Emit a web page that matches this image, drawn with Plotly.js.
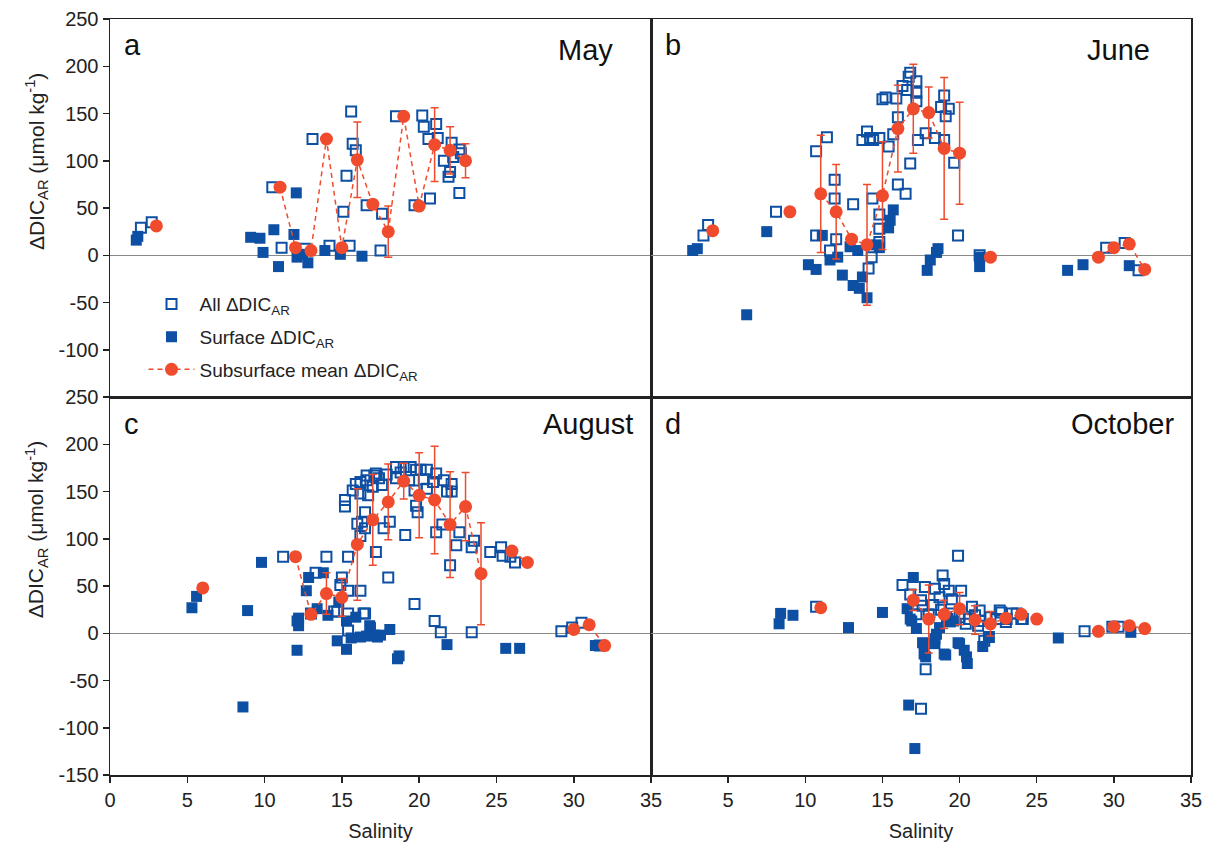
<!DOCTYPE html>
<html>
<head>
<meta charset="utf-8">
<script src="https://cdn.plot.ly/plotly-3.0.1.min.js"></script>
<style>html,body{margin:0;padding:0;background:#fff;}#chart{width:1213px;height:852px;}</style>
</head>
<body>
<div id="chart"></div>
<script>
// ---------- Data ----------
// Panel a: May
const mayAllX = [2.0, 2.7, 10.5, 11.1, 12.6, 13.1, 14.2, 15.1, 15.3, 15.5, 15.6, 15.7, 15.9, 16.6, 17.5, 17.6, 18.5, 19.7, 20.2, 20.3, 20.6, 20.7, 21.1, 21.2, 21.6, 21.9, 22.0, 22.1, 22.2, 22.6, 22.7, 22.6];
const mayAllY = [29, 35, 72, 8, 7, 123, 10, 46, 84, 10, 152, 118, 111, 53, 5, 44, 147, 53, 148, 136, 123, 60, 139, 124, 100, 83, 88, 119, 104, 112, 108, 66];
const maySurfX = [1.7, 1.8, 9.1, 9.7, 9.9, 10.6, 10.9, 12.05, 11.9, 12.1, 12.45, 12.8, 13.9, 14.9, 16.3];
const maySurfY = [16, 20, 19, 18, 3, 27, -12, 66, 22, -2, 1, -8, 5, 1, -1];
const mayMeanX = [3, 11, 12, 13, 14, 15, 16, 17, 18, 19, 20, 21, 22, 23];
const mayMeanY = [31, 72, 8, 5, 123, 8, 101, 54, 25, 147, 52, 117, 111, 100];
const mayMeanErr = [null, null, null, null, null, null, 40, null, 27, null, null, 39, 25, 18];

// Panel b: June
const junAllX = [3.7, 3.4, 8.1, 10.7, 10.7, 11.4, 11.9, 11.9, 11.6, 12.0, 13.1, 13.7, 14.0, 14.2, 14.4, 14.8, 15.4, 14.35, 14.8, 14.8, 14.8, 14.3, 14.1, 15.0, 15.2, 15.9, 16.0, 15.7, 16.0, 16.5, 16.8, 16.3, 16.7, 16.8, 16.6, 17.2, 17.2, 17.2, 17.3, 17.8, 18.4, 19.0, 18.8, 19.3, 19.1, 19.0, 19.65, 19.9, 21.3, 29.5, 30.7, 31.6];
const junAllY = [32, 21, 46, 21, 110, 125, 80, 60, 5, 17, 54, 122, 131, 124, 122, 124, 115, 60, 43, 28, 14, -2, -14, 165, 167, 166, 146, 128, 75, 65, 97, 179, 189, 193, 175, 184, 172, 163, 122, 129, 124, 169, 157, 155, 147, 122, 98, 21, 0, 8, 13, -16];
const junSurfX = [2.7, 3.0, 6.2, 7.5, 10.2, 10.7, 11.1, 11.6, 12.1, 12.4, 13.1, 13.5, 13.7, 14.0, 12.9, 13.4, 14.6, 14.8, 15.4, 15.7, 15.5, 17.9, 18.1, 18.5, 18.6, 21.3, 21.3, 27.0, 28.0, 31.0];
const junSurfY = [5, 7, -63, 25, -10, -15, 21, -5, -2, -21, -32, -35, -23, -45, 9, 5, 11, 8, 29, 48, 37, -16, -5, 3, 7, -2, -12, -16, -10, -11];
const junMeanX = [4, 9, 11, 12, 13, 14, 15, 16, 17, 18, 19, 20, 22, 29, 30, 31, 32];
const junMeanY = [26, 46, 65, 46, 17, 11, 63, 134, 155, 151, 113, 108, -2, -2, 8, 12, -15];
const junMeanErr = [null, null, 62, 50, null, 64, 57, 46, 47, 27, 75, 54, null, null, null, null, null];

// Panel c: August
const augAllX = [11.2, 14.0, 15.4, 13.3, 13.0, 15.0, 14.9, 14.5, 14.7, 15.4, 16.2, 16.5, 15.4, 15.4, 15.2, 15.2, 15.7, 15.9, 16.2, 16.6, 16.7, 16.5, 16.0, 16.2, 17.2, 16.5, 17.2, 16.2, 16.3, 16.6, 17.1, 17.4, 17.6, 18.1, 17.7, 18.0, 18.5, 19.0, 19.45, 19.8, 20.1, 20.5, 21.1, 18.5, 19.35, 19.7, 20.5, 19.1, 19.9, 19.8, 21.1, 22.1, 22.1, 21.8, 22.6, 22.4, 22.0, 23.55, 23.4, 24.6, 25.3, 25.4, 25.9, 26.2, 19.7, 21.0, 21.4, 23.4, 16.4, 21.5, 29.2, 29.9, 30.5, 31.7, 17.9, 18.8, 20.9, 21.6, 17.0, 20.3];
const augAllY = [81, 81, 81, 64, 21, 59, 51, 23, 23, 45, 45, 21, 21, 3, 134, 141, 151, 158, 160, 162, 146, 128, 116, 103, 86, 111, 169, 148, 118, 167, 167, 164, 157, 118, 111, 59, 176, 176, 176, 173, 173, 173, 169, 164, 162, 151, 153, 104, 128, 135, 107, 158, 150, 150, 107, 93, 72, 98, 91, 86, 91, 82, 81, 75, 31, 13, 1, 1, 21, 115, 2, 6, 11, -13, 168, 170, 160, 162, 155, 163];
const augSurfX = [5.3, 5.6, 8.9, 8.6, 9.8, 12.1, 12.2, 12.2, 12.7, 12.85, 13.8, 13.4, 12.1, 14.1, 14.7, 15.3, 15.9, 16.8, 17.3, 16.2, 14.8, 15.3, 16.85, 17.1, 17.5, 18.1, 18.6, 18.7, 21.8, 25.6, 26.5, 31.4, 15.6, 16.6];
const augSurfY = [27, 39, 24, -78, 75, -18, 8, 16, 45, 59, 64, 26, 13, 19, -8, -17, 17, 8, -4, -4, 33, 13, 6, -2, -2, 4, -27, -24, -12, -16, -16, -13, -5, -3];
const augMeanX = [6, 12, 13, 14, 15, 16, 17, 18, 19, 20, 21, 22, 23, 24, 26, 27, 30, 31, 32];
const augMeanY = [48, 81, 20, 42, 38, 94, 120, 139, 161, 146, 141, 115, 134, 63, 87, 75, 4, 9, -13];
const augMeanErr = [null, null, null, 22, 20, 59, 48, 40, 19, 45, 57, 56, 36, 54, null, null, null, null, null];

// Panel d: October
const octAllX = [10.7, 16.3, 16.8, 17.5, 17.8, 17.75, 19.9, 18.9, 19.0, 18.4, 19.3, 20.1, 18.7, 19.5, 17.5, 17.6, 19.5, 20.0, 20.6, 21.3, 21.2, 22.0, 22.4, 22.7, 23.05, 23.7, 24.0, 21.6, 21.0, 22.6, 23.0, 23.4, 24.1, 28.1, 29.9, 30.3, 21.3, 21.9, 18.0, 18.3, 18.8, 19.2, 20.4, 20.8, 17.2];
const octAllY = [28, 51, 41, -80, -38, 49, 82, 61, 52, 47, 45, 45, 38, 36, 35, 29, 21, 17, 15, 24, 8, 17, 15, 22, 15, 21, 15, -8, 19, 24, 12, 21, 15, 2, 7, 7, 13, -4, 20, 30, 25, 15, 10, 28, 20];
const octSurfX = [8.4, 8.3, 9.2, 12.8, 15.0, 17.0, 16.6, 16.9, 17.2, 17.6, 17.8, 16.7, 17.1, 16.8, 17.7, 18.4, 18.5, 19.0, 18.7, 19.4, 19.9, 20.3, 20.5, 20.45, 21.5, 21.9, 17.7, 18.4, 19.1, 20.0, 19.15, 19.6, 26.4, 31.1];
const octSurfY = [21, 10, 19, 6, 22, 59, 26, 13, 5, -10, -25, -76, -122, 15, -22, -11, -1, -22, 6, 12, -10, -18, -32, -25, -14, -4, -11, -6, -23, -11, 17, 13, -5, 1];
const octMeanX = [11, 17, 18, 19, 20, 21, 22, 23, 24, 25, 29, 30, 31, 32];
const octMeanY = [27, 35, 15, 20, 26, 14, 10, 16, 20, 15, 2, 7, 8, 5];
const octMeanErr = [null, 11, 36, 15, 17, 15, 13, null, null, null, null, null, null, null];

const panelLetters = ['a', 'b', 'c', 'd'];
const panelMonths = ['May', 'June', 'August', 'October'];
const legendNames = ['All ΔDIC<sub>AR</sub>', 'Surface ΔDIC<sub>AR</sub>', 'Subsurface mean ΔDIC<sub>AR</sub>'];
const xTickVals = [0, 5, 10, 15, 20, 25, 30, 35];
const xTickTextLeft = ['0', '5', '10', '15', '20', '25', '30', '35'];
const xTickTextRight = [' ', '5', '10', '15', '20', '25', '30', '35'];
const yTickValsTop = [-100, -50, 0, 50, 100, 150, 200, 250];
const yTickTextTop = ['-100', '-50', '0', '50', '100', '150', '200', '250'];
const yTickValsBottom = [-150, -100, -50, 0, 50, 100, 150, 200, 250];
const yTickTextBottom = ['-150', '-100', '-50', '0', '50', '100', '150', '200', '250'];

// ---------- Styling ----------
const BLUE = '#0d4fa3';
const RED = '#f04b2c';
const FONT = 'Liberation Sans, Arial, Helvetica, sans-serif';

// break the dashed line where salinity classes are not consecutive
function withGaps(xs, ys, es) {
  const X = [], Y = [], E = [];
  for (let i = 0; i < xs.length; i++) {
    if (i > 0 && xs[i] - xs[i - 1] > 1) { X.push(null); Y.push(null); E.push(null); }
    X.push(xs[i]); Y.push(ys[i]); E.push(es[i]);
  }
  return {X, Y, E};
}

const panels = [
  {xa: 'x', ya: 'y', all: [mayAllX, mayAllY], surf: [maySurfX, maySurfY], mean: [mayMeanX, mayMeanY, mayMeanErr]},
  {xa: 'x2', ya: 'y2', all: [junAllX, junAllY], surf: [junSurfX, junSurfY], mean: [junMeanX, junMeanY, junMeanErr]},
  {xa: 'x3', ya: 'y3', all: [augAllX, augAllY], surf: [augSurfX, augSurfY], mean: [augMeanX, augMeanY, augMeanErr]},
  {xa: 'x4', ya: 'y4', all: [octAllX, octAllY], surf: [octSurfX, octSurfY], mean: [octMeanX, octMeanY, octMeanErr]}
];

const traces = [];
panels.forEach((p, i) => {
  const first = i === 0;
  traces.push({
    type: 'scatter', mode: 'markers', x: p.all[0], y: p.all[1], xaxis: p.xa, yaxis: p.ya,
    name: legendNames[0], showlegend: first, legendgroup: 'g1',
    marker: {symbol: 'square-open', size: 10, color: BLUE, line: {width: 2, color: BLUE}}
  });
  traces.push({
    type: 'scatter', mode: 'markers', x: p.surf[0], y: p.surf[1], xaxis: p.xa, yaxis: p.ya,
    name: legendNames[1], showlegend: first, legendgroup: 'g2',
    marker: {symbol: 'square', size: 11, color: BLUE, line: {width: 0}}
  });
  const g = withGaps(p.mean[0], p.mean[1], p.mean[2]);
  traces.push({
    type: 'scatter', mode: 'lines+markers', x: g.X, y: g.Y, xaxis: p.xa, yaxis: p.ya,
    name: legendNames[2], showlegend: first, legendgroup: 'g3', connectgaps: false,
    line: {color: RED, width: 1.5, dash: '5px,4px'},
    marker: {symbol: 'circle', size: 13, color: RED, line: {width: 0}},
    error_y: {type: 'data', array: g.E, visible: true, color: RED, thickness: 1.5, width: 4}
  });
});

const axisLine = {showline: true, mirror: true, linecolor: '#222', linewidth: 1.5, showgrid: false};
const tickFont = {family: FONT, size: 20, color: '#222'};
const split = 0.5005;

function xAxis(domain, bottom, anchor, ticktext) {
  const a = Object.assign({}, axisLine, {
    domain: domain, anchor: anchor, range: [0, 35], zeroline: false,
    tickmode: 'array', tickvals: xTickVals, ticktext: ticktext,
    ticks: bottom ? 'outside' : '', ticklen: 6, tickwidth: 1.5, tickcolor: '#222',
    showticklabels: bottom, tickfont: tickFont
  });
  if (bottom) a.title = {text: 'Salinity', font: {family: FONT, size: 20, color: '#222'}, standoff: 14};
  return a;
}
function yAxis(domain, left, anchor, vals, text) {
  return Object.assign({}, axisLine, {
    domain: domain, anchor: anchor, range: [-150, 250],
    zeroline: true, zerolinecolor: '#8a8a8a', zerolinewidth: 1.3,
    tickmode: 'array', tickvals: vals, ticktext: text,
    ticks: left ? 'outside' : '', ticklen: 6, tickwidth: 1.5, tickcolor: '#222',
    showticklabels: left, tickfont: tickFont
  });
}

const layout = {
  width: 1213, height: 852,
  margin: {l: 110, r: 22, t: 19, b: 77},
  paper_bgcolor: '#ffffff', plot_bgcolor: '#ffffff',
  font: {family: FONT, color: '#222'},
  showlegend: true,
  xaxis: xAxis([0, split], false, 'y', xTickTextLeft),
  xaxis2: xAxis([split, 1], false, 'y2', xTickTextRight),
  xaxis3: xAxis([0, split], true, 'y3', xTickTextLeft),
  xaxis4: xAxis([split, 1], true, 'y4', xTickTextRight),
  yaxis: yAxis([0.5, 1], true, 'x', yTickValsTop, yTickTextTop),
  yaxis2: yAxis([0.5, 1], false, 'x2', yTickValsTop, yTickTextTop),
  yaxis3: yAxis([0, 0.5], true, 'x3', yTickValsBottom, yTickTextBottom),
  yaxis4: yAxis([0, 0.5], false, 'x4', yTickValsBottom, yTickTextBottom),
  legend: {
    x: 0.031, y: 0.648, xanchor: 'left', yanchor: 'top',
    bgcolor: 'rgba(0,0,0,0)', borderwidth: 0,
    font: {family: FONT, size: 19, color: '#222'},
    tracegroupgap: 5, itemwidth: 46, traceorder: 'grouped'
  },
  annotations: []
};

const axesPairs = [['x', 'y'], ['x2', 'y2'], ['x3', 'y3'], ['x4', 'y4']];
const monthX = [0.933, 0.927, 0.97, 0.974];
const monthY = [0.918, 0.918, 0.929, 0.929];
const letterY = [0.931, 0.931, 0.929, 0.929];
axesPairs.forEach((ax, i) => {
  layout.annotations.push({
    text: panelLetters[i], xref: ax[0] + ' domain', yref: ax[1] + ' domain',
    x: 0.022, y: letterY[i], xanchor: 'left', yanchor: 'middle', showarrow: false,
    font: {family: FONT, size: 29, color: '#111'}
  });
  layout.annotations.push({
    text: panelMonths[i], xref: ax[0] + ' domain', yref: ax[1] + ' domain',
    x: monthX[i], y: monthY[i], xanchor: 'right', yanchor: 'middle', showarrow: false,
    font: {family: FONT, size: 29, color: '#111'}
  });
});
const yTitle = 'ΔDIC<sub>AR</sub> (μmol kg<sup>-1</sup>)';
[0.812, 0.325].forEach(yy => {
  layout.annotations.push({
    text: yTitle, xref: 'paper', yref: 'paper', x: -0.0685, y: yy,
    xanchor: 'center', yanchor: 'middle', textangle: -90, showarrow: false,
    font: {family: 'Liberation Sans Narrow, Arial Narrow, Liberation Sans, Arial, sans-serif', size: 21, color: '#222'}
  });
});

Plotly.newPlot('chart', traces, layout, {displayModeBar: false, staticPlot: true});
</script>
</body>
</html>
